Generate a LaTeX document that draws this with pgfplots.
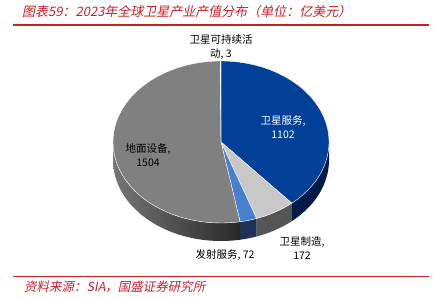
\documentclass[border=0pt]{standalone}
\usepackage{pgfplots}
\pgfplotsset{compat=1.18}
\usepackage{pgfplotstable}
\usepackage{fontspec}
\setmainfont{Liberation Sans}
\newfontfamily\cjk{Noto Sans CJK SC}
\newfontfamily\cjkit{Noto Sans CJK SC}[FakeSlant=0.2]
\definecolor{cBlue}{RGB}{0,64,152}
\definecolor{cBlueS}{RGB}{0,26,72}
\definecolor{cLGray}{RGB}{200,200,200}
\definecolor{cLGrayS}{RGB}{85,85,85}
\definecolor{cLaunch}{RGB}{72,128,208}
\definecolor{cLaunchS}{RGB}{32,50,88}
\definecolor{cGray}{RGB}{128,128,128}
\definecolor{cGraySL}{RGB}{118,118,118}
\definecolor{cGraySR}{RGB}{40,40,40}
\definecolor{cRed}{RGB}{200,30,40}
\pgfplotstableread{
name value
service 1102
manuf 172
launch 72
ground 1504
sustain 3
}\piedata
\begin{document}
\begin{tikzpicture}
\pgfplotstablegetelem{0}{value}\of\piedata \let\vA\pgfplotsretval
\pgfplotstablegetelem{1}{value}\of\piedata \let\vB\pgfplotsretval
\pgfplotstablegetelem{2}{value}\of\piedata \let\vC\pgfplotsretval
\pgfplotstablegetelem{3}{value}\of\piedata \let\vD\pgfplotsretval
\pgfplotstablegetelem{4}{value}\of\piedata \let\vE\pgfplotsretval
\pgfmathsetmacro\tot{\vA+\vB+\vC+\vD+\vE}
\pgfmathsetmacro\aA{90}
\pgfmathsetmacro\aB{\aA-360*(\vA/\tot)}
\pgfmathsetmacro\aC{\aB-360*(\vB/\tot)}
\pgfmathsetmacro\aD{\aC-360*(\vC/\tot)}
\pgfmathsetmacro\aE{\aD-360*(\vD/\tot)}
\pgfmathsetmacro\aF{\aE-360*(\vE/\tot)}
\def\cx{221}\def\cy{157}\def\rx{108}\def\ry{81}\def\dd{18}
\pgfmathsetmacro\gLo{max(\aE,-180)}
\begin{axis}[width=439pt,height=299pt,scale only axis,xmin=0,xmax=439,ymin=0,ymax=299,hide axis,clip=false]
\path (axis cs:0,0) rectangle (axis cs:439,299);
% side walls
\addplot[fill=cBlueS,draw=none,domain=0:3,samples=181,variable=\s]
 ({\cx+\rx*cos(\aB+(0-\aB)*min(\s,1)-(0-\aB)*max(\s-2,0))},
  {\cy+\ry*sin(\aB+(0-\aB)*min(\s,1)-(0-\aB)*max(\s-2,0))-\dd*min(max(\s-1,0),1)}) -- cycle;
\addplot[fill=cLGrayS,draw=none,domain=0:3,samples=121,variable=\s]
 ({\cx+\rx*cos(\aC+(\aB-\aC)*min(\s,1)-(\aB-\aC)*max(\s-2,0))},
  {\cy+\ry*sin(\aC+(\aB-\aC)*min(\s,1)-(\aB-\aC)*max(\s-2,0))-\dd*min(max(\s-1,0),1)}) -- cycle;
\addplot[fill=cLaunchS,draw=none,domain=0:3,samples=121,variable=\s]
 ({\cx+\rx*cos(\aD+(\aC-\aD)*min(\s,1)-(\aC-\aD)*max(\s-2,0))},
  {\cy+\ry*sin(\aD+(\aC-\aD)*min(\s,1)-(\aC-\aD)*max(\s-2,0))-\dd*min(max(\s-1,0),1)}) -- cycle;
\addplot[left color=cGraySL,right color=cGraySR,draw=none,domain=0:3,samples=181,variable=\s]
 ({\cx+\rx*cos(\gLo+(\aD-\gLo)*min(\s,1)-(\aD-\gLo)*max(\s-2,0))},
  {\cy+\ry*sin(\gLo+(\aD-\gLo)*min(\s,1)-(\aD-\gLo)*max(\s-2,0))-\dd*min(max(\s-1,0),1)}) -- cycle;
% top surfaces
\addplot[fill=cBlue,draw=white,line width=0.4pt,domain=\aB:\aA,samples=80,variable=\t]
 ({\cx+\rx*cos(\t)},{\cy+\ry*sin(\t)}) -- (axis cs:\cx,\cy) -- cycle;
\addplot[fill=cLGray,draw=white,line width=0.4pt,domain=\aC:\aB,samples=30,variable=\t]
 ({\cx+\rx*cos(\t)},{\cy+\ry*sin(\t)}) -- (axis cs:\cx,\cy) -- cycle;
\addplot[fill=cLaunch,draw=white,line width=0.4pt,domain=\aD:\aC,samples=20,variable=\t]
 ({\cx+\rx*cos(\t)},{\cy+\ry*sin(\t)}) -- (axis cs:\cx,\cy) -- cycle;
\addplot[fill=cGray,draw=white,line width=0.4pt,domain=\aE:\aD,samples=120,variable=\t]
 ({\cx+\rx*cos(\t)},{\cy+\ry*sin(\t)}) -- (axis cs:\cx,\cy) -- cycle;
\addplot[fill=cLGray,draw=white,line width=0.4pt,domain=\aF:\aE,samples=5,variable=\t]
 ({\cx+\rx*cos(\t)},{\cy+\ry*sin(\t)}) -- (axis cs:\cx,\cy) -- cycle;
% decorations
\draw[cRed,line width=1.3pt] (axis cs:13,274) -- (axis cs:429,274);
\draw[cRed,line width=1.3pt] (axis cs:13,22.5) -- (axis cs:429,22.5);
\node[anchor=west,text=cRed,font=\cjkit\fontsize{13}{15}\selectfont,inner sep=0pt] at (axis cs:22,287) {图表59：2023年全球卫星产业产值分布（单位：亿美元）};
\node[anchor=west,text=cRed,font=\cjkit\fontsize{12.5}{14}\selectfont,inner sep=0pt] at (axis cs:24,12) {资料来源：SIA，国盛证券研究所};
% labels
\tikzset{lab/.style={align=center,font=\cjk\fontsize{10.5}{14}\selectfont,inner sep=0pt,text=black}}
\node[lab] at (axis cs:221,252) {卫星可持续活\\动, 3};
\node[lab,text=white] at (axis cs:283,172) {卫星服务,\\1102};
\node[lab] at (axis cs:302,51) {卫星制造,\\172};
\node[lab] at (axis cs:225,44) {发射服务, 72};
\node[lab] at (axis cs:148,144) {地面设备,\\1504};
\end{axis}
\end{tikzpicture}
\end{document}
